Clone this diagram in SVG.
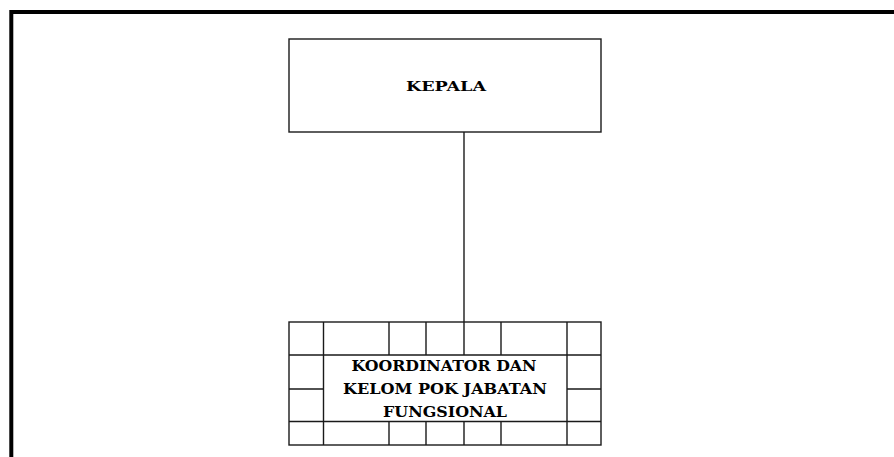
<svg xmlns="http://www.w3.org/2000/svg" width="894" height="457" viewBox="0 0 894 457">
<style>
.frame{fill:none;stroke:#000;stroke-width:4}
.box{fill:#fff;stroke:#1a1a1a;stroke-width:1.4}
.grid{fill:none;stroke:#1a1a1a;stroke-width:1.4}
.conn{fill:none;stroke:#1a1a1a;stroke-width:1.4}
.lbl{font-family:"DejaVu Serif","Liberation Serif",serif;font-weight:bold;fill:#000;text-anchor:middle}
</style>
<rect width="894" height="457" fill="#fff"/>
<path class="frame" d="M11.3,457 V12 H894"/>
<g id="connectors">
<line class="conn" x1="464" y1="132" x2="464" y2="322"/>
</g>
<g id="kepala">
<rect class="box" x="289" y="39" width="312" height="93"/>
<text class="lbl" x="446" y="91" font-size="13" textLength="80" lengthAdjust="spacingAndGlyphs">KEPALA</text>
</g>
<g id="koordinator">
<rect class="box" x="289" y="322" width="312" height="123"/>
<path class="grid" d="M289,355 H601 M289,421.5 H601 M289,389 H323.5 M567,389 H601 M323.5,322 V445 M567,322 V445 M389,322 V355 M426,322 V355 M464,322 V355 M501,322 V355 M389,421.5 V445 M426,421.5 V445 M464,421.5 V445 M501,421.5 V445"/>
<text class="lbl" font-size="14.5"><tspan x="444" y="371" textLength="185" lengthAdjust="spacingAndGlyphs">KOORDINATOR DAN</tspan><tspan x="445" y="394" textLength="204" lengthAdjust="spacingAndGlyphs">KELOM POK JABATAN</tspan><tspan x="445" y="417" textLength="124" lengthAdjust="spacingAndGlyphs">FUNGSIONAL</tspan></text>
</g>
</svg>
